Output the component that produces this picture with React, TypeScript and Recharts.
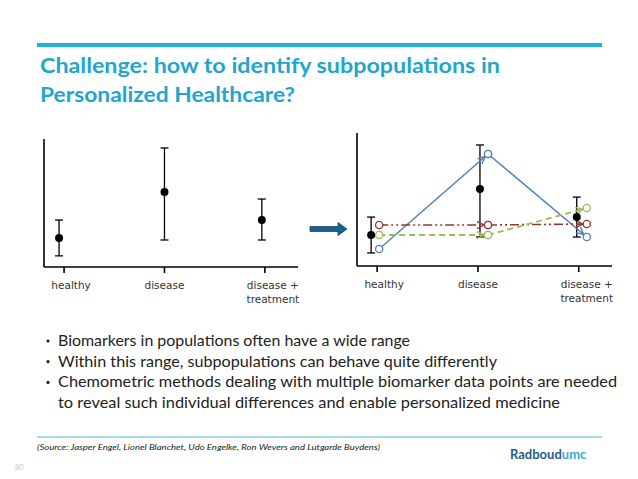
import React from "react";
import { ComposedChart, Scatter, Line, XAxis, YAxis, ErrorBar } from "recharts";

const categories = ["healthy", "disease", "disease +\ntreatment"];
const categoryTicks = [1, 2, 3];
const labelShift = [7, 0, 8];

// left panel: whole population, mean and spread
const popX = [0.95, 2.0, 2.97];
const popMean = [22.7, 58.6, 36.7];
const popErrLow = [14, 37.5, 15.6];
const popErrHigh = [14, 34.4, 16.4];

// right panel: same population plus three subpopulations
const subPopX = [0.94, 2.02, 2.98];
const subPopMean = [23.3, 57.9, 36.8];
const subPopErrLow = [13.5, 36.1, 15];
const subPopErrHigh = [13.5, 33.1, 15];

const subX = [1.02, 2.1, 3.08];
const blueSub = [12.8, 84.2, 21.8];
const redSub = [30.8, 30.8, 31.6];
const greenSub = [23.3, 23.3, 43.6];

const title = ["Challenge: how to identify subpopulations in", "Personalized Healthcare?"];
const bullets = [
  "Biomarkers in populations often have a wide range",
  "Within this range, subpopulations can behave quite differently",
  "Chemometric methods dealing with multiple biomarker data points are needed",
  "to reveal such individual differences and enable personalized medicine",
];
const source =
  "(Source: Jasper Engel, Lionel Blanchet, Udo Engelke, Ron Wevers and Lutgarde Buydens)";

const TITLE_COLOR = "#1fa6cf";
const BLUE = "#4f81bd";
const RED = "#953735";
const GREEN = "#9bbb59";

const meanRows = (xs: number[], ys: number[], lo: number[], hi: number[]) =>
  xs.map((x, i) => ({ x, y: ys[i], err: [lo[i], hi[i]] }));

// each series is split into segments so every segment gets its own arrowhead
const segments = (ys: number[]) =>
  ys.slice(1).map((_, i) => [
    { x: subX[i], y: ys[i] },
    { x: subX[i + 1], y: ys[i + 1] },
  ]);

const popData = meanRows(popX, popMean, popErrLow, popErrHigh);
const subPopData = meanRows(subPopX, subPopMean, subPopErrLow, subPopErrHigh);

const CatTick = (props: any) => {
  const { x, y, payload } = props;
  const i = categoryTicks.indexOf(payload.value);
  const lines = categories[i].split("\n");
  const cx = x + labelShift[i];
  return (
    <text x={cx} y={y} textAnchor="middle" fontFamily="DejaVu Sans" fontSize={10.5} fill="#333">
      {lines.map((l, k) => (
        <tspan key={k} x={cx} dy={14}>
          {l}
        </tspan>
      ))}
    </text>
  );
};

const blackDot = (p: any) => <circle cx={p.cx} cy={p.cy} r={4} fill="#000" />;

const hollowDot = (color: string) => (p: any) =>
  <circle key={`d-${p.index}`} cx={p.cx} cy={p.cy} r={3.6} fill="#fff" stroke={color} strokeWidth={1.3} />;

function Panel({
  width,
  height,
  margin,
  meanData,
  children,
}: {
  width: number;
  height: number;
  margin: any;
  meanData: any[];
  children?: React.ReactNode;
}) {
  return (
    <ComposedChart width={width} height={height} margin={margin}>
      <XAxis
        dataKey="x"
        type="number"
        domain={[0.8, 3.33]}
        ticks={categoryTicks}
        tick={<CatTick />}
        tickSize={6}
        height={40}
        stroke="#000"
        strokeWidth={1.6}
        interval={0}
      />
      <YAxis
        dataKey="y"
        type="number"
        domain={[0, 100]}
        width={4}
        tick={false}
        tickLine={false}
        axisLine={{ stroke: "#000", strokeWidth: 1.6 }}
      />
      <Scatter data={meanData} shape={blackDot} isAnimationActive={false}>
        <ErrorBar dataKey="err" direction="y" width={4} stroke="#000" strokeWidth={1.3} />
      </Scatter>
      {children}
    </ComposedChart>
  );
}

const seriesLines = [
  { name: "blue", ys: blueSub, color: BLUE, dash: undefined, w: 1.5 },
  { name: "red", ys: redSub, color: RED, dash: "9 3 2 3 2 3", w: 1.6 },
  { name: "green", ys: greenSub, color: GREEN, dash: "6 4", w: 1.8 },
];

export default function App() {
  return (
    <div
      style={{
        position: "absolute",
        left: 0,
        top: 0,
        width: 638,
        height: 479,
        background: "#fff",
        overflow: "hidden",
      }}
    >
      <svg width={638} height={479} style={{ position: "absolute", left: 0, top: 0 }}>
        <defs>
          {seriesLines.map((s) => (
            <marker
              key={s.name}
              id={`arrow-${s.name}`}
              markerUnits="userSpaceOnUse"
              markerWidth={9}
              markerHeight={9}
              viewBox="0 0 9 9"
              refX={12}
              refY={4.5}
              orient="auto"
            >
              <path d="M1,1 L8,4.5 L1,8" fill="none" stroke={s.color} strokeWidth={1.4} />
            </marker>
          ))}
        </defs>
        <line x1={37} x2={602} y1={45} y2={45} stroke="#22b1da" strokeWidth={4} />
        {title.map((t, i) => (
          <text
            key={i}
            x={40}
            y={73 + i * 29}
            fontFamily="Lato"
            fontWeight={700}
            fontSize={20.5}
            fill={TITLE_COLOR}
            textLength={i === 0 ? 460 : 255}
            lengthAdjust="spacingAndGlyphs"
          >
            {t}
          </text>
        ))}
        <polygon
          points="310,226.5 338,226.5 338,222.5 347,229 338,235.5 338,231.5 310,231.5"
          fill="#1b6088"
          stroke="#154b6b"
          strokeWidth={0.8}
        />
        {bullets.map((b, i) => {
          const widths = [352, 439, 559, 502];
          const y = 346 + i * 20.7;
          return (
            <g key={i}>
              {i < 3 && <circle cx={48} cy={y - 5} r={1.6} fill="#222" />}
              <text
                x={58}
                y={y}
                fontFamily="Lato"
                fontSize={16}
                fill="#222"
                textLength={widths[i]}
                lengthAdjust="spacingAndGlyphs"
              >
                {b}
              </text>
            </g>
          );
        })}
        <line x1={37} x2={602} y1={437} y2={437} stroke="#52b6d0" strokeWidth={1} />
        <text
          x={37}
          y={450}
          fontFamily="Lato"
          fontStyle="italic"
          fontSize={8.5}
          fill="#222"
          textLength={343}
          lengthAdjust="spacingAndGlyphs"
        >
          {source}
        </text>
        <text x={510} y={459} fontFamily="Lato" fontWeight={700} fontSize={13}>
          <tspan fill="#245d8a">Radboud</tspan>
          <tspan fill="#3aaad0">umc</tspan>
        </text>
        <text x={15} y={470} fontFamily="Lato" fontSize={7.5} fill="#c4c4c4">
          80
        </text>
      </svg>

      <div style={{ position: "absolute", left: 0, top: 120 }}>
        <Panel
          width={320}
          height={200}
          margin={{ top: 19, right: 22, left: 40, bottom: 13 }}
          meanData={popData}
        />
      </div>

      <div style={{ position: "absolute", left: 320, top: 120 }}>
        <Panel
          width={318}
          height={200}
          margin={{ top: 13, right: 26, left: 33, bottom: 14 }}
          meanData={subPopData}
        >
          {seriesLines.flatMap((s) =>
            segments(s.ys).map((seg, k) => (
              <Line
                key={`${s.name}-${k}`}
                data={seg}
                dataKey="y"
                type="linear"
                stroke={s.color}
                strokeWidth={s.w}
                strokeDasharray={s.dash}
                markerEnd={`url(#arrow-${s.name})`}
                dot={hollowDot(s.color)}
                activeDot={false}
                isAnimationActive={false}
              />
            ))
          )}
        </Panel>
      </div>
    </div>
  );
}
